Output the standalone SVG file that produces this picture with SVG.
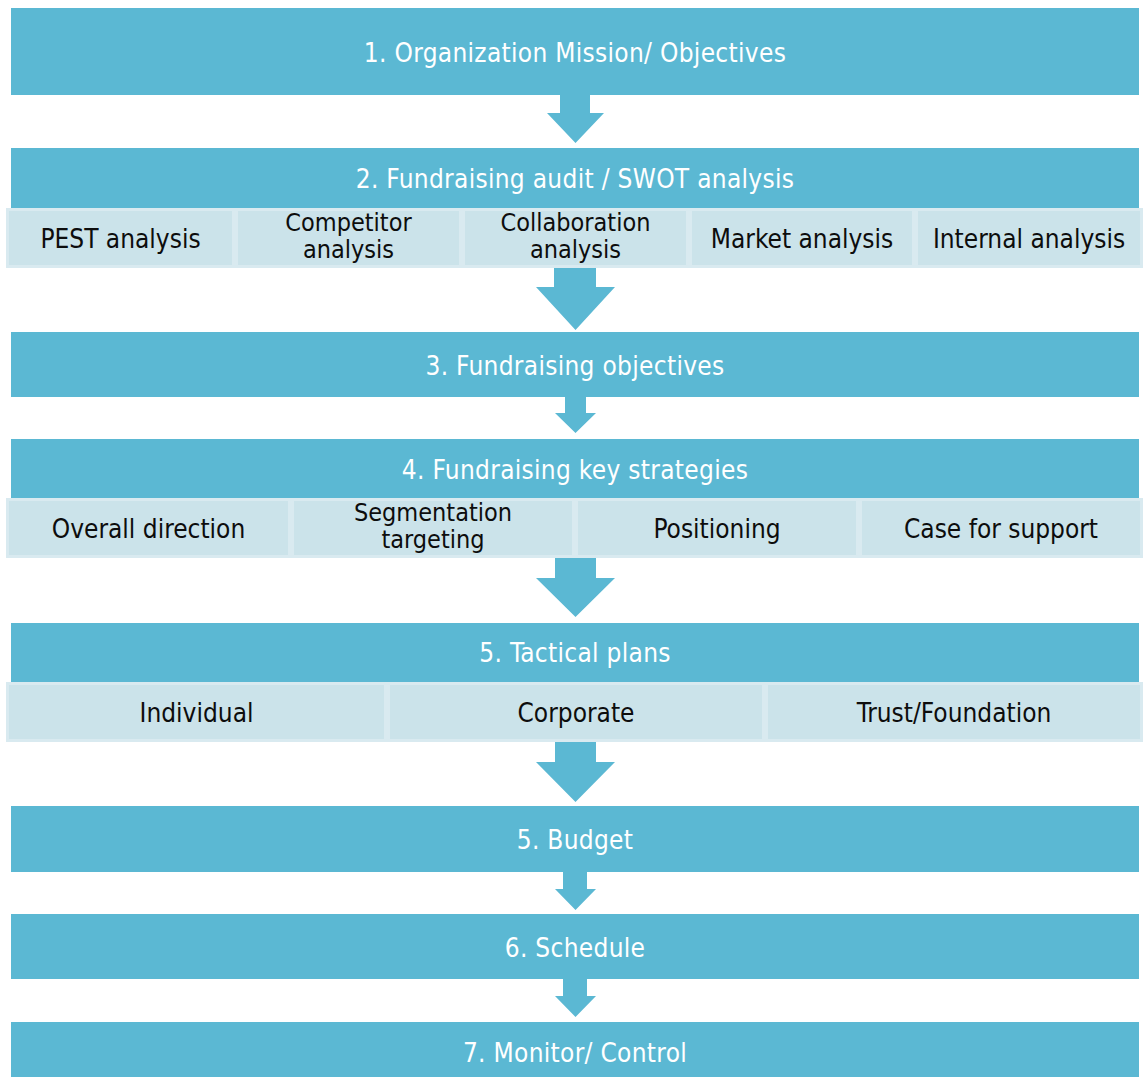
<svg xmlns="http://www.w3.org/2000/svg" width="1143" height="1077" viewBox="0 0 1143 1077">
<style>
.hdr{fill:#5bb8d3}
.cellO{fill:#d9eaf0}
.cellI{fill:#cbe3ea}
.arr{fill:#5bb8d3}
text{font-family:"DejaVu Sans Condensed","DejaVu Sans",sans-serif;font-stretch:condensed;font-size:26px;text-anchor:middle}
.ht{fill:#ffffff;letter-spacing:0.3px}
.ct{fill:#0d0d0d}
.ct2{fill:#0d0d0d;font-size:25px}
</style>
<rect width="1143" height="1077" fill="#ffffff"/>
<g id="connectors">
<path class="arr" d="M560,95 H590 V113 H604 L575.5,143 L547,113 H560 Z"/>
<path class="arr" d="M554,268 H596 V287 H615 L575.5,330 L536,287 H554 Z"/>
<path class="arr" d="M565,397 H586 V413 H596 L575.5,433 L555,413 H565 Z"/>
<path class="arr" d="M555,558 H596 V578 H615 L575.5,617 L536,578 H555 Z"/>
<path class="arr" d="M555,742 H596 V762 H615 L575.5,802 L536,762 H555 Z"/>
<path class="arr" d="M563,872 H587 V889 H596 L575.5,910 L555,889 H563 Z"/>
<path class="arr" d="M563,979 H587 V996 H596 L575.5,1017 L555,996 H563 Z"/>
</g>
<g id="n1">
<rect class="hdr" x="11" y="8" width="1128" height="87"/>
<text class="ht" x="575" y="62">1. Organization Mission/ Objectives</text>
</g>
<g id="n2">
<rect class="hdr" x="11" y="148" width="1128" height="60"/>
<text class="ht" x="575" y="188">2. Fundraising audit / SWOT analysis</text>
</g>
<g id="n2a">
<rect class="cellO" x="6" y="208" width="229" height="60"/>
<rect class="cellI" x="9" y="211" width="223" height="54"/>
<text class="ct" x="120.5" y="247.5">PEST analysis</text>
</g>
<g id="n2b">
<rect class="cellO" x="235" y="208" width="227" height="60"/>
<rect class="cellI" x="238" y="211" width="221" height="54"/>
<text class="ct2" x="348.5" y="231">Competitor</text>
<text class="ct2" x="348.5" y="258">analysis</text>
</g>
<g id="n2c">
<rect class="cellO" x="462" y="208" width="227" height="60"/>
<rect class="cellI" x="465" y="211" width="221" height="54"/>
<text class="ct2" x="575.5" y="231">Collaboration</text>
<text class="ct2" x="575.5" y="258">analysis</text>
</g>
<g id="n2d">
<rect class="cellO" x="689" y="208" width="226" height="60"/>
<rect class="cellI" x="692" y="211" width="220" height="54"/>
<text class="ct" x="802" y="247.5">Market analysis</text>
</g>
<g id="n2e">
<rect class="cellO" x="915" y="208" width="228" height="60"/>
<rect class="cellI" x="918" y="211" width="222" height="54"/>
<text class="ct" x="1029" y="247.5">Internal analysis</text>
</g>
<g id="n3">
<rect class="hdr" x="11" y="332" width="1128" height="65"/>
<text class="ht" x="575" y="374.5">3. Fundraising objectives</text>
</g>
<g id="n4">
<rect class="hdr" x="11" y="439" width="1128" height="59"/>
<text class="ht" x="575" y="478.5">4. Fundraising key strategies</text>
</g>
<g id="n4a">
<rect class="cellO" x="6" y="498" width="285" height="60"/>
<rect class="cellI" x="9" y="501" width="279" height="54"/>
<text class="ct" x="148.5" y="537.5">Overall direction</text>
</g>
<g id="n4b">
<rect class="cellO" x="291" y="498" width="284" height="60"/>
<rect class="cellI" x="294" y="501" width="278" height="54"/>
<text class="ct2" x="433" y="521">Segmentation</text>
<text class="ct2" x="433" y="548">targeting</text>
</g>
<g id="n4c">
<rect class="cellO" x="575" y="498" width="284" height="60"/>
<rect class="cellI" x="578" y="501" width="278" height="54"/>
<text class="ct" x="717" y="537.5">Positioning</text>
</g>
<g id="n4d">
<rect class="cellO" x="859" y="498" width="284" height="60"/>
<rect class="cellI" x="862" y="501" width="278" height="54"/>
<text class="ct" x="1001" y="537.5">Case for support</text>
</g>
<g id="n5">
<rect class="hdr" x="11" y="623" width="1128" height="59"/>
<text class="ht" x="575" y="662">5. Tactical plans</text>
</g>
<g id="n5a">
<rect class="cellO" x="6" y="682" width="381" height="60"/>
<rect class="cellI" x="9" y="685" width="375" height="54"/>
<text class="ct" x="196.5" y="721.5">Individual</text>
</g>
<g id="n5b">
<rect class="cellO" x="387" y="682" width="378" height="60"/>
<rect class="cellI" x="390" y="685" width="372" height="54"/>
<text class="ct" x="576" y="721.5">Corporate</text>
</g>
<g id="n5c">
<rect class="cellO" x="765" y="682" width="378" height="60"/>
<rect class="cellI" x="768" y="685" width="372" height="54"/>
<text class="ct" x="954" y="721.5">Trust/Foundation</text>
</g>
<g id="n6">
<rect class="hdr" x="11" y="806" width="1128" height="66"/>
<text class="ht" x="575" y="848.5">5. Budget</text>
</g>
<g id="n7">
<rect class="hdr" x="11" y="914" width="1128" height="65"/>
<text class="ht" x="575" y="956.5">6. Schedule</text>
</g>
<g id="n8">
<rect class="hdr" x="11" y="1022" width="1128" height="60"/>
<text class="ht" x="575" y="1062">7. Monitor/ Control</text>
</g>
</svg>
